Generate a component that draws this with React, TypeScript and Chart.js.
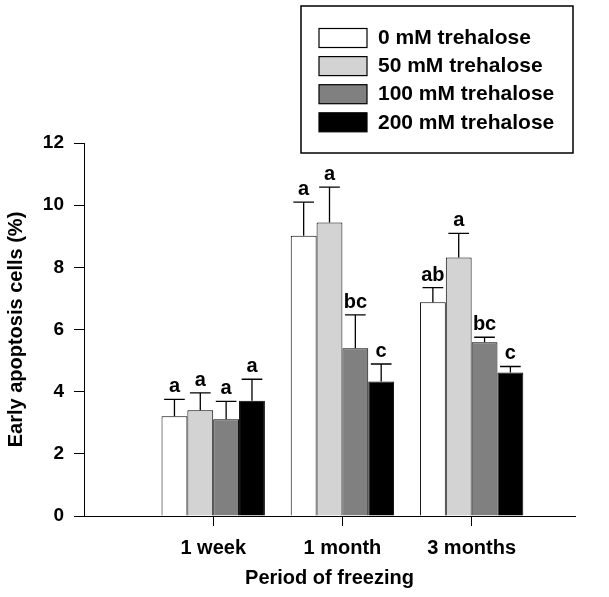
import { useEffect, useRef } from "react";
import { Chart, registerables } from "chart.js";

Chart.register(...registerables);

// ---- data ----
const periods = ["1 week", "1 month", "3 months"];
const periodPositions = [1, 2, 3];
const seriesNames = ["0 mM trehalose", "50 mM trehalose", "100 mM trehalose", "200 mM trehalose"];

const mean0 = [3.21, 9.02, 6.88];
const mean50 = [3.4, 9.44, 8.32];
const mean100 = [3.11, 5.4, 5.59];
const mean200 = [3.71, 4.33, 4.62];

const err0 = [0.54, 1.08, 0.47];
const err50 = [0.56, 1.14, 0.77];
const err100 = [0.58, 1.07, 0.16];
const err200 = [0.69, 0.56, 0.19];

const letters0 = ["a", "a", "ab"];
const letters50 = ["a", "a", "a"];
const letters100 = ["a", "bc", "bc"];
const letters200 = ["a", "c", "c"];

const yTicks = [0, 2, 4, 6, 8, 10, 12];

const seriesColors = ["#ffffff", "#d3d3d3", "#808080", "#000000"];

const allMeans = [mean0, mean50, mean100, mean200];
const allErrs = [err0, err50, err100, err200];
const allLetters = [letters0, letters50, letters100, letters200];

const FONT = '"Liberation Sans", Arial, Helvetica, sans-serif';

const errorBarPlugin = {
  id: "errorBars",
  afterDatasetsDraw(chart: any) {
    const ctx = chart.ctx;
    const yScale = chart.scales.y;
    chart.data.datasets.forEach((_ds: any, di: number) => {
      const meta = chart.getDatasetMeta(di);
      meta.data.forEach((bar: any, i: number) => {
        const top = yScale.getPixelForValue(allMeans[di][i] + allErrs[di][i]);
        const base = bar.y;
        const half = bar.width * 0.4;
        ctx.save();
        ctx.strokeStyle = "#000";
        ctx.lineWidth = 1.3;
        ctx.beginPath();
        ctx.moveTo(bar.x, base);
        ctx.lineTo(bar.x, top);
        ctx.moveTo(bar.x - half, top);
        ctx.lineTo(bar.x + half, top);
        ctx.stroke();
        ctx.fillStyle = "#000";
        ctx.font = `bold 20px ${FONT}`;
        ctx.textAlign = "center";
        ctx.textBaseline = "alphabetic";
        ctx.fillText(allLetters[di][i], bar.x, top - 7);
        ctx.restore();
      });
    });
  },
};

const legendBoxPlugin = {
  id: "legendBox",
  afterDraw(chart: any) {
    const ctx = chart.ctx;
    ctx.save();
    ctx.strokeStyle = "#000";
    ctx.lineWidth = 1.5;
    ctx.strokeRect(301, 6, 272, 147);
    seriesNames.forEach((name, i) => {
      const top = 28.5 + i * 28.1;
      ctx.fillStyle = seriesColors[i];
      ctx.fillRect(319, top, 48, 19);
      ctx.strokeStyle = "#000";
      ctx.lineWidth = 1.2;
      ctx.strokeRect(319, top, 48, 19);
      ctx.fillStyle = "#000";
      ctx.font = `bold 21px ${FONT}`;
      ctx.textAlign = "left";
      ctx.textBaseline = "middle";
      ctx.fillText(name, 378, top + 10);
    });
    ctx.restore();
  },
};

export default function App() {
  const canvasRef = useRef<HTMLCanvasElement | null>(null);

  useEffect(() => {
    if (!canvasRef.current) return;
    const chart = new Chart(canvasRef.current, {
      type: "bar",
      data: {
        datasets: seriesNames.map((name, di) => ({
          label: name,
          data: periodPositions.map((x, i) => ({ x, y: allMeans[di][i] })),
          backgroundColor: seriesColors[di],
          borderColor: "#000",
          borderWidth: 1,
          categoryPercentage: 0.8,
          barPercentage: 1,
        })),
      },
      options: {
        animation: false,
        responsive: false,
        layout: { padding: { top: 143, right: 34, left: 0, bottom: 0 } },
        plugins: {
          legend: { display: false },
          tooltip: { enabled: false },
        },
        scales: {
          x: {
            type: "linear",
            min: 0,
            max: 3.8,
            offset: false,
            afterBuildTicks: (s: any) => {
              s.ticks = periodPositions.map((v) => ({ value: v }));
            },
            afterFit: (s: any) => {
              s.height = 81;
            },
            ticks: {
              callback: (_v: any, idx: number) => periods[idx],
              color: "#000",
              font: { family: FONT, size: 20, weight: "bold" },
              padding: 10,
              maxRotation: 0,
              autoSkip: false,
            },
            grid: {
              drawOnChartArea: false,
              drawTicks: true,
              tickLength: 10,
              color: "#000",
              offset: false,
            },
            border: { display: true, color: "#000", width: 1 },
            title: {
              display: true,
              text: "Period of freezing",
              color: "#000",
              font: { family: FONT, size: 20, weight: "bold" },
              padding: { top: 4, bottom: 7 },
            },
          },
          y: {
            min: 0,
            max: 12,
            afterBuildTicks: (s: any) => {
              s.ticks = yTicks.map((v) => ({ value: v }));
            },
            afterFit: (s: any) => {
              s.width = 84;
            },
            ticks: {
              color: "#000",
              font: { family: FONT, size: 19, weight: "bold" },
              padding: 10,
            },
            grid: {
              drawOnChartArea: false,
              drawTicks: true,
              tickLength: 10,
              color: "#000",
            },
            border: { display: true, color: "#000", width: 1 },
            title: {
              display: true,
              text: "Early apoptosis cells (%)",
              color: "#000",
              font: { family: FONT, size: 20, weight: "bold" },
              padding: { top: 4, bottom: 4 },
            },
          },
        },
      } as any,
      plugins: [errorBarPlugin, legendBoxPlugin],
    });
    return () => chart.destroy();
  }, []);

  return (
    <div style={{ position: "absolute", left: 0, top: 0, width: 609, height: 597, background: "#fff" }}>
      <canvas ref={canvasRef} width={609} height={597} style={{ width: 609, height: 597, display: "block" }} />
    </div>
  );
}
